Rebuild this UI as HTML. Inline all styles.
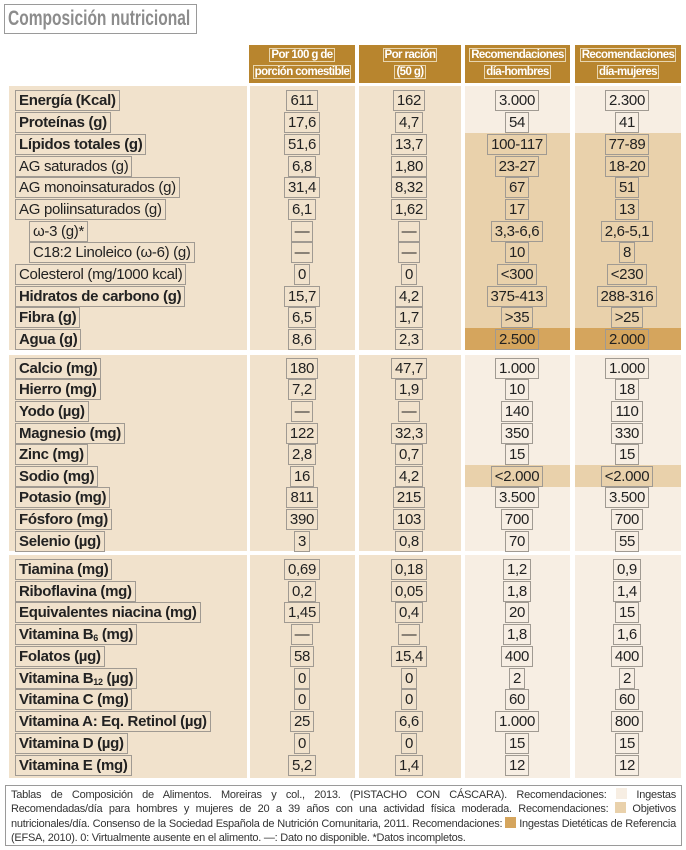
<!DOCTYPE html>
<html><head><meta charset="utf-8"><style>
*{margin:0;padding:0;box-sizing:border-box}
body{width:686px;height:850px;background:#fff;position:relative;font-family:"Liberation Sans",sans-serif;color:#222;overflow:hidden}
.abs{position:absolute}
.title{left:4px;top:4px;width:193px;height:30px;border:1px solid #9a9a9a;color:#8c8c8c;font-weight:bold;font-size:21px;line-height:28px;padding-left:3px;white-space:nowrap;overflow:hidden}
.title span{display:inline-block;transform:scaleX(0.74);transform-origin:0 50%}
.hd{top:45px;height:38px;background:#b8852e;color:#fff;font-size:11.5px;font-weight:bold;text-align:center;line-height:17px;padding-top:2px;letter-spacing:-0.6px;white-space:nowrap;overflow:hidden}
.hd span{border:1px solid #e8d6b0;padding:0 1px}
.bg{background:#f1e2cc}
.lt{background:#f7eee3}
.md{background:#e9d1ab}
.dk{background:#d5a55d}
.r{position:absolute;left:0;width:686px;height:21px;font-size:15px;line-height:19px}
.r .l{position:absolute;left:15px;top:0;border:1px solid #a09a92;padding:0 3px;height:21px;white-space:nowrap;letter-spacing:-0.3px}
.r .l.i{left:29px}
.r .b{font-weight:bold}
.r .c{position:absolute;top:0;text-align:center}
.r .c span{display:inline-block;border:1px solid #a09a92;padding:0 3px;height:21px;letter-spacing:-0.3px}
.c1{left:249px;width:106px}.c2{left:357px;width:104px}.c3{left:463px;width:108px}.c4{left:573px;width:108px}
sub{font-size:9px;vertical-align:-2px}
.foot{left:5px;top:785px;width:677px;height:61px;border:1px solid #9a9a9a;font-size:11px;line-height:14.4px;padding:2px 5px;text-align:justify;color:#333;letter-spacing:-0.25px}
.sq{display:inline-block;width:11px;height:11px;vertical-align:-1px}
</style></head><body>
<div class="abs title"><span>Composición nutricional</span></div>
<div class="abs hd" style="left:249px;width:106px"><span>Por 100 g de</span><br><span>porción comestible</span></div>
<div class="abs hd" style="left:359px;width:102px"><span>Por ración</span><br><span>(50 g)</span></div>
<div class="abs hd" style="left:465px;width:105px"><span>Recomendaciones</span><br><span>día-hombres</span></div>
<div class="abs hd" style="left:575px;width:106px"><span>Recomendaciones</span><br><span>día-mujeres</span></div>

<div class="abs bg" style="left:9px;top:86px;width:238px;height:264px"></div>
<div class="abs bg" style="left:9px;top:355px;width:238px;height:196px"></div>
<div class="abs bg" style="left:9px;top:555px;width:238px;height:223px"></div>
<div class="abs bg" style="left:250px;top:86px;width:105px;height:264px"></div>
<div class="abs bg" style="left:250px;top:355px;width:105px;height:196px"></div>
<div class="abs bg" style="left:250px;top:555px;width:105px;height:223px"></div>
<div class="abs bg" style="left:359px;top:86px;width:102px;height:264px"></div>
<div class="abs bg" style="left:359px;top:355px;width:102px;height:196px"></div>
<div class="abs bg" style="left:359px;top:555px;width:102px;height:223px"></div>
<div class="abs lt" style="left:465px;top:86px;width:105px;height:47px"></div>
<div class="abs lt" style="left:575px;top:86px;width:106px;height:47px"></div>
<div class="abs md" style="left:465px;top:133px;width:105px;height:195px"></div>
<div class="abs md" style="left:575px;top:133px;width:106px;height:195px"></div>
<div class="abs dk" style="left:465px;top:328px;width:105px;height:22px"></div>
<div class="abs dk" style="left:575px;top:328px;width:106px;height:22px"></div>
<div class="abs lt" style="left:465px;top:355px;width:105px;height:196px"></div>
<div class="abs lt" style="left:575px;top:355px;width:106px;height:196px"></div>
<div class="abs md" style="left:465px;top:465px;width:105px;height:22px"></div>
<div class="abs md" style="left:575px;top:465px;width:106px;height:22px"></div>
<div class="abs lt" style="left:465px;top:555px;width:105px;height:223px"></div>
<div class="abs lt" style="left:575px;top:555px;width:106px;height:223px"></div>

<div class="r" style="top:90px"><div class="l b">Energía (Kcal)</div><div class="c c1"><span>611</span></div><div class="c c2"><span>162</span></div><div class="c c3"><span>3.000</span></div><div class="c c4"><span>2.300</span></div></div>
<div class="r" style="top:112px"><div class="l b">Proteínas (g)</div><div class="c c1"><span>17,6</span></div><div class="c c2"><span>4,7</span></div><div class="c c3"><span>54</span></div><div class="c c4"><span>41</span></div></div>
<div class="r" style="top:134px"><div class="l b">Lípidos totales (g)</div><div class="c c1"><span>51,6</span></div><div class="c c2"><span>13,7</span></div><div class="c c3"><span>100-117</span></div><div class="c c4"><span>77-89</span></div></div>
<div class="r" style="top:156px"><div class="l">AG saturados (g)</div><div class="c c1"><span>6,8</span></div><div class="c c2"><span>1,80</span></div><div class="c c3"><span>23-27</span></div><div class="c c4"><span>18-20</span></div></div>
<div class="r" style="top:177px"><div class="l">AG monoinsaturados (g)</div><div class="c c1"><span>31,4</span></div><div class="c c2"><span>8,32</span></div><div class="c c3"><span>67</span></div><div class="c c4"><span>51</span></div></div>
<div class="r" style="top:199px"><div class="l">AG poliinsaturados (g)</div><div class="c c1"><span>6,1</span></div><div class="c c2"><span>1,62</span></div><div class="c c3"><span>17</span></div><div class="c c4"><span>13</span></div></div>
<div class="r" style="top:221px"><div class="l i">ω-3 (g)*</div><div class="c c1"><span>—</span></div><div class="c c2"><span>—</span></div><div class="c c3"><span>3,3-6,6</span></div><div class="c c4"><span>2,6-5,1</span></div></div>
<div class="r" style="top:242px"><div class="l i">C18:2 Linoleico (ω-6) (g)</div><div class="c c1"><span>—</span></div><div class="c c2"><span>—</span></div><div class="c c3"><span>10</span></div><div class="c c4"><span>8</span></div></div>
<div class="r" style="top:264px"><div class="l">Colesterol (mg/1000 kcal)</div><div class="c c1"><span>0</span></div><div class="c c2"><span>0</span></div><div class="c c3"><span>&lt;300</span></div><div class="c c4"><span>&lt;230</span></div></div>
<div class="r" style="top:286px"><div class="l b">Hidratos de carbono (g)</div><div class="c c1"><span>15,7</span></div><div class="c c2"><span>4,2</span></div><div class="c c3"><span>375-413</span></div><div class="c c4"><span>288-316</span></div></div>
<div class="r" style="top:307px"><div class="l b">Fibra (g)</div><div class="c c1"><span>6,5</span></div><div class="c c2"><span>1,7</span></div><div class="c c3"><span>&gt;35</span></div><div class="c c4"><span>&gt;25</span></div></div>
<div class="r" style="top:329px"><div class="l b">Agua (g)</div><div class="c c1"><span>8,6</span></div><div class="c c2"><span>2,3</span></div><div class="c c3"><span>2.500</span></div><div class="c c4"><span>2.000</span></div></div>

<div class="r" style="top:358px"><div class="l b">Calcio (mg)</div><div class="c c1"><span>180</span></div><div class="c c2"><span>47,7</span></div><div class="c c3"><span>1.000</span></div><div class="c c4"><span>1.000</span></div></div>
<div class="r" style="top:379px"><div class="l b">Hierro (mg)</div><div class="c c1"><span>7,2</span></div><div class="c c2"><span>1,9</span></div><div class="c c3"><span>10</span></div><div class="c c4"><span>18</span></div></div>
<div class="r" style="top:401px"><div class="l b">Yodo (µg)</div><div class="c c1"><span>—</span></div><div class="c c2"><span>—</span></div><div class="c c3"><span>140</span></div><div class="c c4"><span>110</span></div></div>
<div class="r" style="top:423px"><div class="l b">Magnesio (mg)</div><div class="c c1"><span>122</span></div><div class="c c2"><span>32,3</span></div><div class="c c3"><span>350</span></div><div class="c c4"><span>330</span></div></div>
<div class="r" style="top:444px"><div class="l b">Zinc (mg)</div><div class="c c1"><span>2,8</span></div><div class="c c2"><span>0,7</span></div><div class="c c3"><span>15</span></div><div class="c c4"><span>15</span></div></div>
<div class="r" style="top:466px"><div class="l b">Sodio (mg)</div><div class="c c1"><span>16</span></div><div class="c c2"><span>4,2</span></div><div class="c c3"><span>&lt;2.000</span></div><div class="c c4"><span>&lt;2.000</span></div></div>
<div class="r" style="top:487px"><div class="l b">Potasio (mg)</div><div class="c c1"><span>811</span></div><div class="c c2"><span>215</span></div><div class="c c3"><span>3.500</span></div><div class="c c4"><span>3.500</span></div></div>
<div class="r" style="top:509px"><div class="l b">Fósforo (mg)</div><div class="c c1"><span>390</span></div><div class="c c2"><span>103</span></div><div class="c c3"><span>700</span></div><div class="c c4"><span>700</span></div></div>
<div class="r" style="top:531px"><div class="l b">Selenio (µg)</div><div class="c c1"><span>3</span></div><div class="c c2"><span>0,8</span></div><div class="c c3"><span>70</span></div><div class="c c4"><span>55</span></div></div>

<div class="r" style="top:559px"><div class="l b">Tiamina (mg)</div><div class="c c1"><span>0,69</span></div><div class="c c2"><span>0,18</span></div><div class="c c3"><span>1,2</span></div><div class="c c4"><span>0,9</span></div></div>
<div class="r" style="top:581px"><div class="l b">Riboflavina (mg)</div><div class="c c1"><span>0,2</span></div><div class="c c2"><span>0,05</span></div><div class="c c3"><span>1,8</span></div><div class="c c4"><span>1,4</span></div></div>
<div class="r" style="top:602px"><div class="l b">Equivalentes niacina (mg)</div><div class="c c1"><span>1,45</span></div><div class="c c2"><span>0,4</span></div><div class="c c3"><span>20</span></div><div class="c c4"><span>15</span></div></div>
<div class="r" style="top:624px"><div class="l b">Vitamina B<sub>6</sub> (mg)</div><div class="c c1"><span>—</span></div><div class="c c2"><span>—</span></div><div class="c c3"><span>1,8</span></div><div class="c c4"><span>1,6</span></div></div>
<div class="r" style="top:646px"><div class="l b">Folatos (µg)</div><div class="c c1"><span>58</span></div><div class="c c2"><span>15,4</span></div><div class="c c3"><span>400</span></div><div class="c c4"><span>400</span></div></div>
<div class="r" style="top:668px"><div class="l b">Vitamina B<sub>12</sub> (µg)</div><div class="c c1"><span>0</span></div><div class="c c2"><span>0</span></div><div class="c c3"><span>2</span></div><div class="c c4"><span>2</span></div></div>
<div class="r" style="top:689px"><div class="l b">Vitamina C (mg)</div><div class="c c1"><span>0</span></div><div class="c c2"><span>0</span></div><div class="c c3"><span>60</span></div><div class="c c4"><span>60</span></div></div>
<div class="r" style="top:711px"><div class="l b">Vitamina A: Eq. Retinol (µg)</div><div class="c c1"><span>25</span></div><div class="c c2"><span>6,6</span></div><div class="c c3"><span>1.000</span></div><div class="c c4"><span>800</span></div></div>
<div class="r" style="top:733px"><div class="l b">Vitamina D (µg)</div><div class="c c1"><span>0</span></div><div class="c c2"><span>0</span></div><div class="c c3"><span>15</span></div><div class="c c4"><span>15</span></div></div>
<div class="r" style="top:755px"><div class="l b">Vitamina E (mg)</div><div class="c c1"><span>5,2</span></div><div class="c c2"><span>1,4</span></div><div class="c c3"><span>12</span></div><div class="c c4"><span>12</span></div></div>

<div class="abs foot">Tablas de Composición de Alimentos. Moreiras y col., 2013. (PISTACHO CON CÁSCARA). Recomendaciones: <span class="sq" style="background:#f7eee3"></span> Ingestas Recomendadas/día para hombres y mujeres de 20 a 39 años con una actividad física moderada. Recomendaciones: <span class="sq" style="background:#e9d1ab"></span> Objetivos nutricionales/día. Consenso de la Sociedad Española de Nutrición Comunitaria, 2011. Recomendaciones: <span class="sq" style="background:#d5a55d"></span> Ingestas Dietéticas de Referencia (EFSA, 2010). 0: Virtualmente ausente en el alimento. —: Dato no disponible. *Datos incompletos.</div>
</body></html>
